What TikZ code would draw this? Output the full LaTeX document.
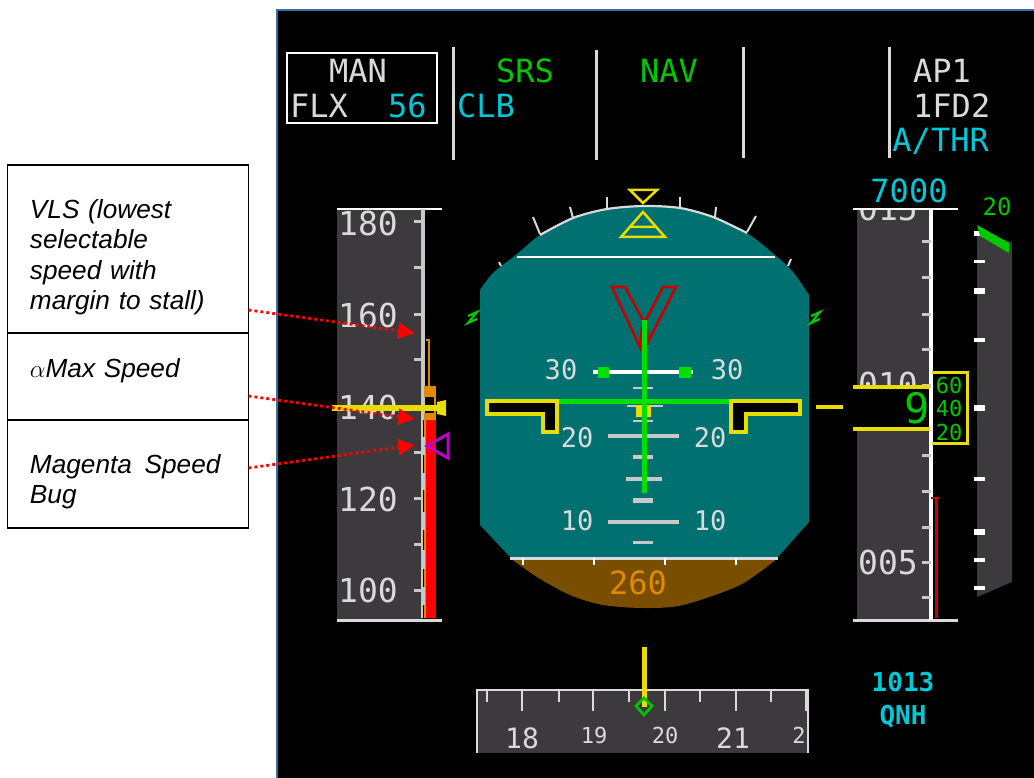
\documentclass[tikz,border=0pt]{standalone}
\usepackage{fontspec}
\setmainfont{Liberation Sans}
\newfontfamily\pfdfont{DejaVu Sans Mono}
\usepackage{tikz}
\usetikzlibrary{positioning,arrows.meta}
\definecolor{tapegray}{HTML}{3C3A3C}
\definecolor{scalegray}{HTML}{C8C8C8}
\definecolor{sky}{HTML}{007070}
\definecolor{ground}{HTML}{7A4E00}
\definecolor{pfdcyan}{HTML}{00C8D8}
\definecolor{pfdgreen}{HTML}{00C800}
\definecolor{barGreen}{HTML}{00E000}
\definecolor{pfdyellow}{HTML}{E8DC00}
\definecolor{pfdorange}{HTML}{E08A00}
\definecolor{pfdmagenta}{HTML}{C000C8}
\definecolor{pfdred}{HTML}{C80000}
\definecolor{framegray}{HTML}{DADADA}
\definecolor{screenblue}{HTML}{3A6EA5}
\tikzstyle{callout} = [rectangle, draw=black, line width=1.2pt, minimum width=241pt, text width=196pt, inner xsep=22pt, inner ysep=0pt, outer sep=0pt, align=left, font=\itshape\fontsize{26.2}{30.5}\selectfont]
\tikzstyle{line} = [draw=red, line width=2.8pt, dash pattern=on 3pt off 3pt, -{Triangle[length=17pt,width=16pt,fill=red]}]
\tikzstyle{pfd} = [inner sep=0pt, text=framegray, font=\pfdfont\fontsize{32}{32}\selectfont]
\tikzstyle{tape} = [pfd, font=\pfdfont\fontsize{33}{33}\selectfont]
\tikzstyle{pitch} = [pfd, font=\pfdfont\fontsize{27}{27}\selectfont]
\tikzstyle{small} = [pfd, font=\pfdfont\fontsize{22}{22}\selectfont]
\tikzstyle{baro} = [pfd, text=pfdcyan, font=\pfdfont\bfseries\fontsize{26}{26}\selectfont]
\tikzstyle{tick} = [draw=scalegray, line width=3pt]
\tikzstyle{wing} = [draw=pfdyellow, fill=black, line width=3.5pt]
\begin{document}
\begin{tikzpicture}[x=1pt, y=-1pt, node distance=0pt]
			\useasboundingbox (0,0) rectangle (1034,778);
			\fill[white] (0,0) rectangle (1034,778);
			\fill[black] (277,10) rectangle (1034,778);
			\draw[screenblue, line width=1.5pt] (277,778) -- (277,10) -- (1034,10);
			% FMA
			\draw[white, line width=2.5pt] (287,53) rectangle (437,123);
			\foreach \fx/\fa/\fb in {453/47/160, 596/50/160, 743/47/158, 889/47/158}
				\draw[framegray, line width=3pt] (\fx,\fa) -- (\fx,\fb);
			\node [pfd] (man) at (358,71) {MAN};
			\node [pfd, anchor=west] (flx) at (290,106) {FLX};
			\node [pfd, anchor=west, text=pfdcyan] (flxtemp) at (388,106) {56};
			\node [pfd, text=pfdgreen] (srs) at (525,71) {SRS};
			\node [pfd, anchor=west, text=pfdcyan] (clb) at (457,106) {CLB};
			\node [pfd, text=pfdgreen] (nav) at (669,71) {NAV};
			\node [pfd, anchor=west] (ap) at (913,71) {AP1};
			\node [pfd, anchor=west] (fd) at (913,106) {1FD2};
			\node [pfd, anchor=east, text=pfdcyan] (athr) at (989,141) {A/THR};
			% Speed tape
			\fill[tapegray] (337,209) rectangle (422,620);
			\foreach \sy/\sv in {223/180, 315/160, 407/140, 499/120, 590/100}
				\node [tape] (spd\sv) at (368,\sy) {\sv};
			\draw[white, line width=2.5pt] (337,209) -- (442,209);
			\draw[framegray, line width=3pt] (337,620) -- (442,620);
			\draw[scalegray, line width=3.5pt] (423,209) -- (423,420);
			\draw[scalegray, line width=2pt] (422,420) -- (422,618);
			\draw[pfdorange, line width=2pt] (425,420) -- (425,618);
			\foreach \sa/\sb in {437/455, 473/490, 512/530, 550/569, 587/605}
				\draw[scalegray, line width=3.5pt] (423.5,\sa) -- (423.5,\sb);
			\foreach \ty in {222, 268, 314, 359, 406, 452, 498, 544, 590}
				\draw[tick] (414,\ty) -- (423,\ty);
			\fill[red] (426,420) rectangle (436,618);
			\draw[pfdorange, line width=2pt] (426,340) -- (428.5,340) -- (428.5,386);
			\fill[pfdorange] (424,386) rectangle (436,397);
			\fill[pfdorange] (424,413) rectangle (436,420);
			\fill[pfdorange] (434,397) rectangle (436,413);
			\draw[pfdyellow, line width=6pt] (332,408) -- (440,408);
			\fill[pfdyellow] (437,402) -- (446,400) -- (446,416) -- (437,414) -- cycle;
			\draw[pfdmagenta, line width=3pt] (427,446) -- (448,434) -- (448,458) -- cycle;
			% Attitude sphere
			\fill[sky] plot[smooth] coordinates {(480,290) (493,273) (517,254) (540,235) (573,218) (607,209) (644,206) (680,208) (713,217) (747,233) (775,255) (793,272) (809,295)} -- (809,522) -- (778,557) -- (510,557) -- (480,525) -- cycle;
			\fill[ground] plot[smooth] coordinates {(510,558) (537,577) (570,595) (603,605) (644,608) (683,605) (740,585) (778,558)} -- cycle;
			\draw[framegray, line width=2.2pt] plot[smooth] coordinates {(540,235) (573,218) (607,209) (644,206) (680,208) (713,217) (747,233)};
			\foreach \xa/\ya/\xb/\yb in {540/234/533/217, 573/218/570/207, 607/209/607/197, 680/208/680/197, 715/217/716/207, 747/232/756/216, 501/266/499/262, 788/266/791/259}
				\draw[framegray, line width=2pt] (\xa,\ya) -- (\xb,\yb);
			\draw[white, line width=2pt] (517,257) -- (775,257);
			\draw[framegray, line width=3pt] (510,558) -- (778,558);
			\foreach \gx in {523, 594, 665, 736}
				\draw[white, line width=2.5pt] (\gx,558) -- (\gx,565);
			\node [pfd, text=pfdorange] (pitchhdg) at (638,583) {260};
			\draw[pfdyellow, line width=2.5pt] (630,190) -- (657,190) -- (643,203) -- cycle;
			\draw[pfdyellow, line width=2.5pt] (643,212) -- (665,237) -- (621,237) -- cycle (631,227) -- (655,227);
			\draw[pfdred, line width=2.6pt] (612,287) -- (625,287) -- (643,320) -- (640,347) -- cycle;
			\draw[pfdred, line width=2.6pt] (676,287) -- (663,287) -- (646,320) -- (648,342) -- cycle;
			% Pitch scale
			\draw[white, line width=3.5pt] (593,372) -- (693,372);
			\fill[barGreen] (598,367) rectangle (609,378);
			\fill[barGreen] (679,367) rectangle (691,378);
			\foreach \py/\pa/\pb/\pw in {388/633/653/2.5, 406/627/663/2.5, 421/633/653/2.5, 436/608/679/4, 457/633/653/3.5, 479/626/662/4, 500/633/653/5, 522/608/679/4, 542/633/653/3}
				\draw[scalegray, line width=\pw pt] (\pa,\py) -- (\pb,\py);
			\foreach \lx/\ly/\lv/\ln in {561/370/30/a, 727/370/30/b, 577/438/20/a, 710/438/20/b, 577/521/10/a, 710/521/10/b}
				\node [pitch] (pitch\lv\ln) at (\lx,\ly) {\lv};
			\fill[pfdyellow] (636,405) rectangle (651,417);
			\draw[barGreen, line width=5pt] (558,401) -- (731,401);
			\draw[barGreen, line width=5pt] (644,320) -- (644,493);
			\draw[wing] (487,401) -- (557,401) -- (557,432) -- (543,432) -- (543,414) -- (487,414) -- cycle;
			\draw[wing] (800,401) -- (731,401) -- (731,432) -- (746,432) -- (746,414) -- (800,414) -- cycle;
			\draw[pfdyellow, line width=4.5pt] (816,407) -- (843,407);
			\draw[pfdgreen, line width=2.2pt] (468,316) -- (477,312) -- (468,323) -- (477,319);
			\draw[pfdgreen, line width=2.2pt] (811,316) -- (820,312) -- (811,323) -- (820,319);
			% Altitude tape
			\fill[tapegray] (857,209) rectangle (929,620);
			\node [tape] (alt015) at (888,208) {015};
			\node [tape] (alt010) at (888,384) {010};
			\node [tape] (alt005) at (888,562) {005};
			\fill[black] (853,190) rectangle (935,208);
			\fill[black] (853,387) rectangle (931,429);
			\node [pfd, text=pfdcyan] (altsel) at (909,191) {7000};
			\draw[white, line width=2.5pt] (853,209) -- (958,209);
			\draw[framegray, line width=3pt] (853,620) -- (958,620);
			\draw[white, line width=3.5pt] (931,209) -- (931,620);
			\foreach \ty in {242, 278, 314, 349, 385, 455, 491, 527, 562, 597}
				\draw[tick] (922,\ty) -- (931,\ty);
			\draw[pfdyellow, line width=3.5pt] (853,387) -- (930,387) (853,429) -- (930,429);
			\draw[pfdyellow, line width=3pt] (932,372) -- (967,372) -- (967,443) -- (932,443);
			\node [pfd, text=pfdgreen, font=\pfdfont\fontsize{42}{42}\selectfont] (altnine) at (917,408) {9};
			\foreach \ay/\av in {385/60, 408/40, 432/20}
				\node [small, text=pfdgreen] (alt\av) at (949,\ay) {\av};
			\draw[pfdred, line width=3pt] (936,498) -- (936,618);
			\draw[pfdred, line width=2pt] (931,498) -- (940,498);
			% V/S scale
			\fill[tapegray] (977,231) -- (1012,242) -- (1012,582) -- (977,597) -- cycle;
			\foreach \vy/\vw in {234/5, 262/3, 291/6, 340/3.5, 408/5.5, 479/4, 532/5.5, 560/4, 588/3.5}
				\draw[white, line width=\vw pt] (974,\vy) -- (985,\vy);
			\fill[pfdgreen] (977,225) -- (1009,243) -- (1009,253) -- (980,236) -- cycle;
			\node [small, text=pfdgreen, font=\pfdfont\fontsize{24}{24}\selectfont] (vstwenty) at (997,207) {20};
			% Heading tape
			\fill[tapegray] (477,690) rectangle (809,753);
			\draw[framegray, line width=2.5pt] (477,753) -- (477,690) -- (808,690) -- (808,753);
			\foreach \hx/\hb in {487/702, 522/711, 559/702, 593/711, 629/702, 665/711, 700/702, 736/711, 771/702}
				\draw[framegray, line width=2.6pt] (\hx,690) -- (\hx,\hb);
			\draw[framegray, line width=4pt] (807,690) -- (807,711);
			\node [pitch, font=\pfdfont\fontsize{28}{28}\selectfont] (hdgeighteen) at (522,738) {18};
			\node [small] (hdgnineteen) at (594,735) {19};
			\node [small] (hdgtwenty) at (665,735) {20};
			\node [pitch, font=\pfdfont\fontsize{28}{28}\selectfont] (hdgtwoone) at (733,738) {21};
			\node [small] (hdgtwotwo) at (799,735) {2};
			\draw[pfdyellow, line width=5pt] (644,647) -- (644,707);
			\draw[pfdgreen, line width=2.5pt] (644,698) -- (652,706) -- (644,715) -- (636,706) -- cycle;
			\node [baro] (baroval) at (903,682) {1013};
			\node [baro] (baroset) at (903,717) {QNH};
			% Place nodes
			\node [callout, minimum height=168pt, anchor=north west] (vls) at (7.5,165) {\rule{0pt}{35pt}VLS (lowest \\ selectable \\ speed with \\ margin to stall)};
			\node [callout, minimum height=87pt, below=of vls] (amax) {$\alpha$Max Speed\rule[-16pt]{0pt}{0pt}};
			\node [callout, minimum height=108pt, below=of amax] (bug) {\rule{0pt}{34pt}Magenta\hspace{4pt} Speed \\ Bug};
			\coordinate (vlstip) at (415,333);
			\coordinate (amaxtip) at (415,419);
			\coordinate (bugtip) at (415,445);
			% Draw edges
			\path [line] ([yshift=-61pt]vls.east) -- (vlstip);
			\path [line] ([yshift=-19.5pt]amax.east) -- (amaxtip);
			\path [line] ([yshift=6pt]bug.east) -- (bugtip);
\end{tikzpicture}
\end{document}
